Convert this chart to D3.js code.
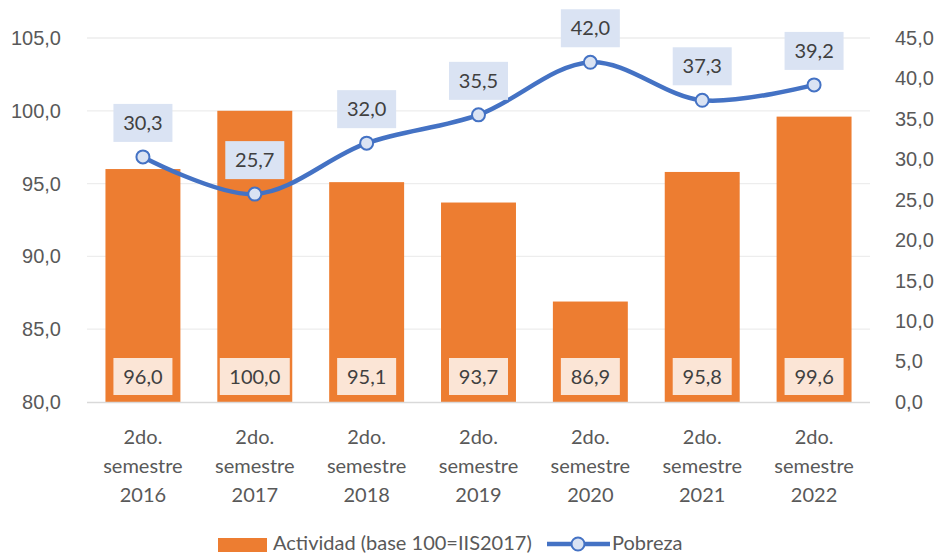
<!DOCTYPE html>
<html>
<head>
<meta charset="utf-8">
<script src="https://cdn.jsdelivr.net/npm/d3@7"></script>
<style>
  body { margin: 0; background: #fff; }
  svg { display: block; font-family: Lato, "Open Sans", sans-serif; }
</style>
</head>
<body>
<div id="chart"></div>
<script>
const categories = ["2016", "2017", "2018", "2019", "2020", "2021", "2022"];
const actividad = [96.0, 100.0, 95.1, 93.7, 86.9, 95.8, 99.6];
const pobreza = [30.3, 25.7, 32.0, 35.5, 42.0, 37.3, 39.2];
const leftTicks = [80, 85, 90, 95, 100, 105];
const rightTicks = [0, 5, 10, 15, 20, 25, 30, 35, 40, 45];

const width = 938, height = 555;
const plot = { left: 87, right: 870, top: 38, bottom: 402 };
const fmt = v => v.toFixed(1).replace(".", ",");

const svg = d3.select("#chart")
  .append("svg")
  .attr("width", width)
  .attr("height", height);

const x = d3.scaleBand()
  .domain(categories)
  .range([plot.left, plot.right])
  .paddingInner(0.33)
  .paddingOuter(0.165);

const yLeft = d3.scaleLinear().domain([80, 105]).range([plot.bottom, plot.top]);
const yRight = d3.scaleLinear().domain([0, 45]).range([plot.bottom, plot.top]);

// gridlines
svg.append("g")
  .selectAll("line")
  .data(leftTicks.slice(1))
  .join("line")
  .attr("x1", plot.left)
  .attr("x2", plot.right)
  .attr("y1", d => yLeft(d))
  .attr("y2", d => yLeft(d))
  .style("stroke", "#EDEDED")
  .style("stroke-width", 1.3);

// left axis
const leftAxis = svg.append("g")
  .attr("transform", `translate(${plot.left - 23},0)`)
  .call(d3.axisLeft(yLeft).tickValues(leftTicks).tickFormat(fmt).tickSize(0));
leftAxis.select(".domain").remove();
leftAxis.selectAll("text")
  .style("font-size", "20px")
  .style("fill", "#595959")
  .attr("font-family", null);

// right axis
const rightAxis = svg.append("g")
  .attr("transform", `translate(${plot.right + 22},0)`)
  .call(d3.axisRight(yRight).tickValues(rightTicks).tickFormat(fmt).tickSize(0));
rightAxis.select(".domain").remove();
rightAxis.selectAll("text")
  .style("font-size", "20px")
  .style("fill", "#595959")
  .attr("font-family", null);

// bars
svg.append("g")
  .selectAll("rect")
  .data(actividad)
  .join("rect")
  .attr("x", (d, i) => x(categories[i]))
  .attr("y", d => yLeft(d))
  .attr("width", x.bandwidth())
  .attr("height", d => yLeft(80) - yLeft(d))
  .style("fill", "#ED7D31");

// base line
svg.append("line")
  .attr("x1", plot.left)
  .attr("x2", plot.right)
  .attr("y1", plot.bottom + 0.5)
  .attr("y2", plot.bottom + 0.5)
  .style("stroke", "#D9D9D9")
  .style("stroke-width", 1.5);

// bar labels
const barLabels = svg.append("g")
  .selectAll("g")
  .data(actividad)
  .join("g")
  .attr("transform", (d, i) => `translate(${x(categories[i]) + x.bandwidth() / 2},${plot.bottom - 25})`);
barLabels.append("rect")
  .attr("x", d => d >= 100 ? -35 : -29.5)
  .attr("y", -19)
  .attr("width", d => d >= 100 ? 70 : 59)
  .attr("height", 37)
  .style("fill", "#FBE5D6");
barLabels.append("text")
  .attr("text-anchor", "middle")
  .attr("dy", "0.36em")
  .style("font-size", "20px")
  .style("fill", "#404040")
  .text(fmt);

// line
const cx = (d, i) => x(categories[i]) + x.bandwidth() / 2;
const line = d3.line()
  .x(cx)
  .y(d => yRight(d))
  .curve(d3.curveCatmullRom.alpha(0.5));

svg.append("path")
  .datum(pobreza)
  .attr("d", line)
  .style("fill", "none")
  .style("stroke", "#4472C4")
  .style("stroke-width", 4.5)
  .style("stroke-linecap", "round");

svg.append("g")
  .selectAll("circle")
  .data(pobreza)
  .join("circle")
  .attr("cx", cx)
  .attr("cy", d => yRight(d))
  .attr("r", 6.5)
  .style("fill", "#DAE3F3")
  .style("stroke", "#4472C4")
  .style("stroke-width", 2);

// line labels
const lineLabels = svg.append("g")
  .selectAll("g")
  .data(pobreza)
  .join("g")
  .attr("transform", (d, i) => `translate(${cx(d, i)},${yRight(d) - 34})`);
lineLabels.append("rect")
  .attr("x", -29.5)
  .attr("y", -19)
  .attr("width", 59)
  .attr("height", 38)
  .style("fill", "#DAE3F3");
lineLabels.append("text")
  .attr("text-anchor", "middle")
  .attr("dy", "0.36em")
  .style("font-size", "20px")
  .style("fill", "#404040")
  .text(fmt);

// category labels
const catLabels = svg.append("g")
  .selectAll("text")
  .data(categories)
  .join("text")
  .attr("text-anchor", "middle")
  .style("font-size", "20px")
  .style("fill", "#595959")
  .attr("transform", d => `translate(${x(d) + x.bandwidth() / 2},444)`);
catLabels.append("tspan").attr("x", 0).attr("y", 0).text("2do.");
catLabels.append("tspan").attr("x", 0).attr("y", 29).text("semestre");
catLabels.append("tspan").attr("x", 0).attr("y", 58).text(d => d);

// legend
const legend = svg.append("g");
legend.append("rect")
  .attr("x", 218)
  .attr("y", 538)
  .attr("width", 49)
  .attr("height", 14)
  .style("fill", "#ED7D31");
legend.append("text")
  .attr("x", 273)
  .attr("y", 550)
  .style("font-size", "20px")
  .style("fill", "#595959")
  .text("Actividad (base 100=IIS2017)");
legend.append("line")
  .attr("x1", 547)
  .attr("x2", 610)
  .attr("y1", 544)
  .attr("y2", 544)
  .style("stroke", "#4472C4")
  .style("stroke-width", 4.5);
legend.append("circle")
  .attr("cx", 578)
  .attr("cy", 544)
  .attr("r", 6.5)
  .style("fill", "#DAE3F3")
  .style("stroke", "#4472C4")
  .style("stroke-width", 2);
legend.append("text")
  .attr("x", 612)
  .attr("y", 550)
  .style("font-size", "20px")
  .style("fill", "#595959")
  .text("Pobreza");
</script>
</body>
</html>
